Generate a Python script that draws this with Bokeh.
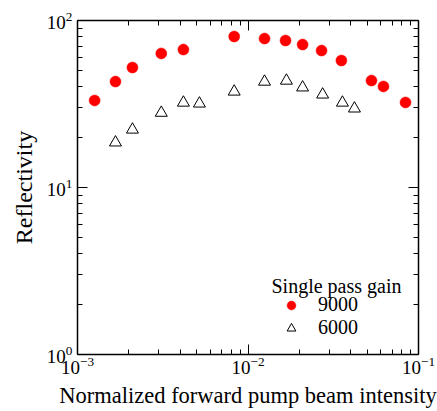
from bokeh.plotting import figure
from bokeh.models import (LogAxis, FixedTicker, LogTickFormatter, Legend, LegendItem,
                          Label, CustomJSTickFormatter)
from bokeh.embed import file_html
from bokeh.resources import INLINE

# Data
x_9000 = [1.26e-3, 1.67e-3, 2.1e-3, 3.1e-3, 4.18e-3, 8.3e-3, 1.25e-2, 1.66e-2,
          2.09e-2, 2.7e-2, 3.53e-2, 5.3e-2, 6.23e-2, 8.39e-2]
y_9000 = [33.2, 43.1, 52.3, 63.5, 67.0, 80.2, 78.0, 75.9, 71.8, 66.1, 57.6,
          43.7, 40.3, 32.3]
x_6000 = [1.67e-3, 2.1e-3, 3.1e-3, 4.18e-3, 5.19e-3, 8.3e-3, 1.25e-2, 1.68e-2,
          2.09e-2, 2.74e-2, 3.58e-2, 4.21e-2]
y_6000 = [18.6, 22.2, 28.0, 32.2, 31.8, 37.5, 43.0, 43.6, 39.7, 36.0, 32.2, 29.7]

series_labels = ["9000", "6000"]
legend_title = "Single pass gain"
x_label = "Normalized forward pump beam intensity"
y_label = "Reflectivity"

x_major = [1e-3, 1e-2, 1e-1]
y_major = [1, 10, 100]
mult = [2, 3, 4, 5, 6, 7, 8, 9]
x_minor = [m * d for d in x_major[:-1] for m in mult]
y_minor = [m * d for d in y_major[:-1] for m in mult]

FONT = "Liberation Serif"

p = figure(frame_width=341, frame_height=334, x_axis_type="log", y_axis_type="log",
           x_range=(1e-3, 1e-1), y_range=(1, 100),
           output_backend="svg", toolbar_location=None,
           min_border_left=77, min_border_top=20, min_border_right=19,
           min_border_bottom=57)
p.outline_line_color = None
p.grid.visible = False
p.background_fill_color = "white"

p.xaxis.ticker = FixedTicker(ticks=x_major, minor_ticks=x_minor)
p.yaxis.ticker = FixedTicker(ticks=y_major, minor_ticks=y_minor)
p.xaxis.formatter = LogTickFormatter()
p.yaxis.formatter = LogTickFormatter()

for ax in [p.xaxis[0], p.yaxis[0]]:
    ax.axis_line_color = "black"
    ax.axis_line_width = 1.5
    ax.major_tick_in = 10
    ax.major_tick_out = 0
    ax.minor_tick_in = 5
    ax.minor_tick_out = 0
    ax.major_tick_line_color = "black"
    ax.minor_tick_line_color = "black"
    ax.major_label_text_font = FONT
    ax.major_label_text_font_size = "19px"
    ax.major_label_text_color = "black"
    ax.axis_label_text_font = FONT
    ax.axis_label_text_font_style = "normal"
    ax.axis_label_text_color = "black"

p.xaxis.axis_label = x_label
p.yaxis.axis_label = y_label
p.xaxis.axis_label_text_font_size = "22.5px"
p.yaxis.axis_label_text_font_size = "24px"
p.xaxis.major_label_standoff = 2
p.xaxis.axis_label_standoff = 6
p.yaxis.major_label_standoff = 5
p.yaxis.axis_label_standoff = 7

for loc, maj, mnr in [("right", y_major, y_minor), ("above", x_major, x_minor)]:
    ax = LogAxis(ticker=FixedTicker(ticks=maj, minor_ticks=mnr),
                 formatter=CustomJSTickFormatter(code="return ''"))
    ax.axis_line_color = "black"
    ax.axis_line_width = 1.5
    ax.major_tick_in = 10
    ax.major_tick_out = 0
    ax.minor_tick_in = 5
    ax.minor_tick_out = 0
    ax.major_label_text_font_size = "0px"
    ax.major_label_standoff = 0
    p.add_layout(ax, loc)

r1 = p.scatter(x_9000, y_9000, marker="circle", size=11,
               fill_color="#ff0000", line_color="#ff0000", line_width=0.5)
r2 = p.scatter(x_6000, y_6000, marker="triangle", size=12,
               fill_color=None, line_color="black", line_width=1)

legend = Legend(items=[LegendItem(label=series_labels[0], renderers=[r1]),
                       LegendItem(label=series_labels[1], renderers=[r2])],
                location=(203, 15), border_line_color=None,
                background_fill_color=None, padding=10, spacing=0,
                glyph_width=22, glyph_height=22, label_standoff=16,
                label_text_font=FONT, label_text_font_size="20px",
                label_text_color="black")
p.add_layout(legend)

p.add_layout(Label(x=194, y=69, x_units="screen", y_units="screen",
                   text=legend_title, text_font=FONT, text_font_size="20px",
                   text_color="black", text_baseline="alphabetic"))

open("out.html", "w").write(file_html(p, INLINE))
